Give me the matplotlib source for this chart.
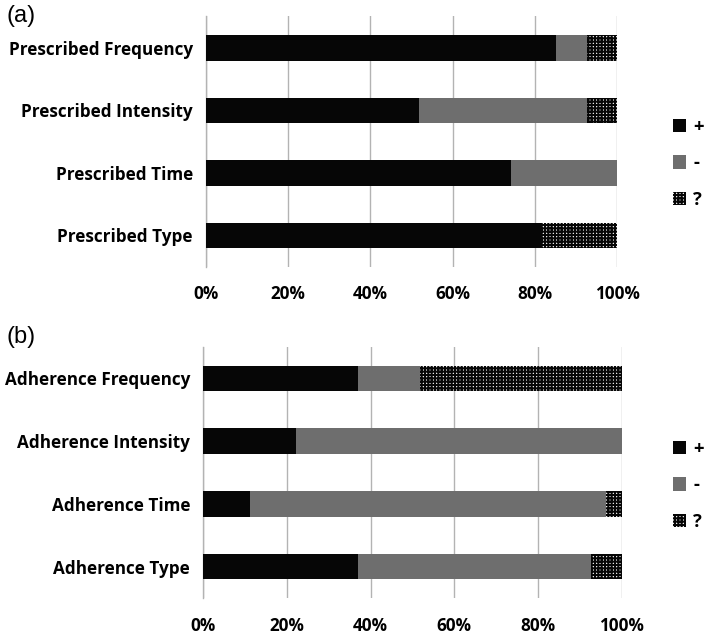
import matplotlib
matplotlib.use("Agg")
import matplotlib.pyplot as plt
import numpy as np

# ---- data ----
top_categories = ["Prescribed Frequency", "Prescribed Intensity", "Prescribed Time", "Prescribed Type"]
top_plus = [85.2, 51.9, 74.1, 81.5]
top_minus = [7.4, 40.7, 25.9, 0.0]
top_unknown = [7.4, 7.4, 0.0, 18.5]

bot_categories = ["Adherence Frequency", "Adherence Intensity", "Adherence Time", "Adherence Type"]
bot_plus = [37.0, 22.2, 11.1, 37.0]
bot_minus = [14.8, 77.8, 85.2, 55.6]
bot_unknown = [48.2, 0.0, 3.7, 7.4]

series_labels = ["+", "-", "?"]
x_ticks = [0, 20, 40, 60, 80, 100]
x_ticklabels = ["0%", "20%", "40%", "60%", "80%", "100%"]

FONT = "Open Sans"
FS = 12.3
BLACK = "#060606"
GRAY = "#6e6e6e"
GRID = "#b3b3b3"
plt.rcParams["hatch.linewidth"] = 1.5

fig = plt.figure(figsize=(7.08, 6.35), dpi=100)
W, H = 708, 635


def add_ax(l, r, t, b):
    return fig.add_axes([l / W, 1 - b / H, (r - l) / W, (b - t) / H])


def draw(ax, cats, plus, minus, unk, legend_y):
    y = np.arange(len(cats))
    h = 0.41
    plus = np.array(plus)
    minus = np.array(minus)
    unk = np.array(unk)
    b1 = ax.barh(y, plus, height=h, color=BLACK, linewidth=0, zorder=3, label=series_labels[0])
    b2 = ax.barh(y, minus, left=plus, height=h, color=GRAY, linewidth=0, zorder=3, label=series_labels[1])
    b3 = ax.barh(y, unk, left=plus + minus, height=h, facecolor="white", edgecolor=BLACK,
                 hatch="+++++", linewidth=0, zorder=3, label=series_labels[2])
    ax.set_xlim(0, 100)
    ax.set_ylim(len(cats) - 0.5, -0.5)
    ax.set_yticks(y)
    ax.set_yticklabels(cats, fontfamily=FONT, fontweight="bold", fontsize=FS)
    ax.set_xticks(x_ticks)
    ax.set_xticklabels(x_ticklabels, fontfamily=FONT, fontweight="bold", fontsize=FS)
    ax.tick_params(axis="both", length=0)
    ax.tick_params(axis="y", pad=9.4)
    ax.tick_params(axis="x", pad=13.5)
    for s in ["top", "right", "bottom"]:
        ax.spines[s].set_visible(False)
    ax.spines["left"].set_color(GRID)
    ax.spines["left"].set_linewidth(1.0)
    ax.grid(axis="x", color=GRID, linewidth=1.0, zorder=0)
    ax.set_axisbelow(True)
    fig.legend(handles=[b1, b2, b3], labels=series_labels, loc="upper left",
               bbox_to_anchor=(672.5 / W, 1 - legend_y / H), frameon=False,
               borderpad=0, borderaxespad=0, handlelength=0.72, handleheight=0.72,
               handletextpad=0.4, labelspacing=1.0,
               prop={"family": FONT, "weight": "bold", "size": FS + 1})


ax1 = add_ax(206, 617, 16.5, 266.7)
draw(ax1, top_categories, top_plus, top_minus, top_unknown, 118)
ax2 = add_ax(203.3, 621.7, 347, 598)
draw(ax2, bot_categories, bot_plus, bot_minus, bot_unknown, 440)

fig.text(7 / W, 1 - 16 / H, "(a)", fontsize=17, fontfamily="Liberation Sans", va="center", ha="left")
fig.text(7 / W, 1 - 337 / H, "(b)", fontsize=17, fontfamily="Liberation Sans", va="center", ha="left")

fig.savefig("out.png", dpi=100)
